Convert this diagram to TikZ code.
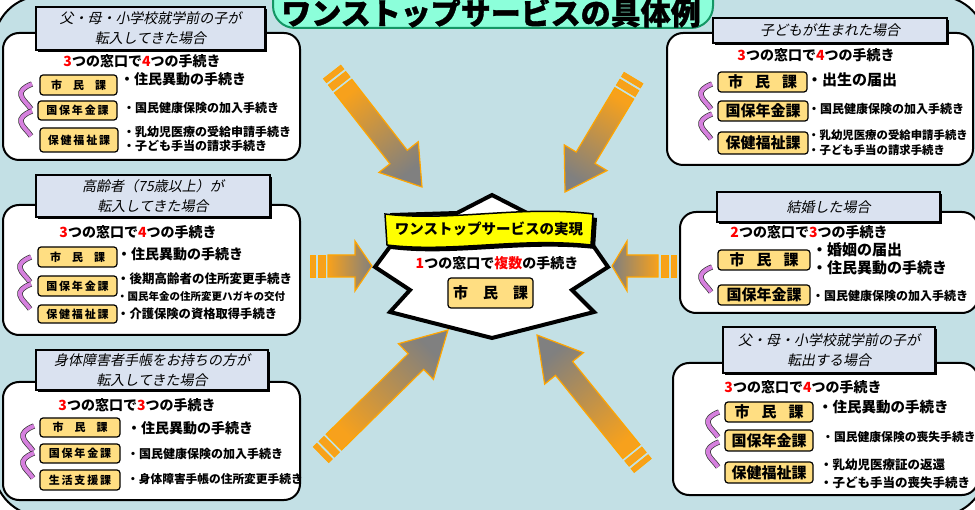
\documentclass[tikz,border=0pt]{standalone}
\usepackage{fontspec}
\setmainfont{Noto Sans CJK JP}
\newfontfamily\tabfont[FakeSlant=0.2]{Noto Sans CJK JP}
\newfontfamily\titlefont[BoldFeatures={FakeBold=1.2}]{Noto Sans CJK JP}
\usetikzlibrary{positioning,shadows}

\definecolor{bgc}{RGB}{195,224,229}
\definecolor{titlec}{RGB}{140,255,218}
\definecolor{titlebd}{RGB}{20,150,100}
\definecolor{tabc}{RGB}{218,226,240}
\definecolor{kac}{RGB}{255,222,130}
\definecolor{ribc}{RGB}{214,128,222}
\definecolor{orangec}{RGB}{247,161,28}
\definecolor{arrowbd}{RGB}{255,165,0}
\definecolor{bannerc}{RGB}{255,255,0}

\newcommand{\rd}[1]{\textcolor{red}{#1}}
\newcommand{\fs}[1]{\bfseries\fontsize{#1}{#1}\selectfont}

% one turn of the purple ribbon
\newcommand{\twist}[2]{%
  \draw[ribbon] (#1+12,#2) .. controls (#1+4,#2+3) and (#1,#2+7) .. (#1+1,#2+11)
    .. controls (#1+2,#2+16) and (#1+8,#2+20) .. (#1+11,#2+25);}

% tip, angle, length, head length, shading angle
\newcommand{\bigarrow}[5]{%
  \begin{scope}[shift={(#1)},rotate=#2]
    \filldraw[arrowbar] (-#3,-11) rectangle (-#3+5,11);
    \filldraw[arrowbar] (-#3+8,-11) rectangle (-#3+15,11);
    \shade[arrowbody,shading angle=#5] (0,0) -- (-#4,25) -- (-#4,11) -- (-#3+18,11)
      -- (-#3+18,-11) -- (-#4,-11) -- (-#4,-25) -- cycle;
  \end{scope}}

\begin{document}
\begin{tikzpicture}[x=1pt,y=-1pt]
  \tikzset{
    panel/.style={draw,line width=2pt,fill=white,rounded corners=16pt,inner sep=0pt},
    tab/.style={draw,line width=1.2pt,fill=tabc,inner sep=0pt,align=center,
      font=\tabfont\fontsize{14}{20}\selectfont,
      drop shadow={fill=black,opacity=1,shadow xshift=2pt,shadow yshift=-2pt}},
    count/.style={inner sep=0pt,font=\fs{14}},
    kabox/.style={draw,line width=1.2pt,fill=kac,rounded corners=3pt,inner sep=0pt,font=\fs{11}},
    bigka/.style={kabox,font=\fs{15}},
    item/.style={anchor=west,inner sep=0pt,align=left,font=\fs{12}},
    ribbon/.style={draw=black!80,line width=0.7pt,double=ribc,double distance=4pt},
    arrowbar/.style={fill=orangec,draw=arrowbd,line width=0.8pt},
    arrowbody/.style={top color=orangec,bottom color=black!50,draw=arrowbd,line width=1.2pt}
  }

  \useasboundingbox (0,0) rectangle (975,510);
  \fill[white] (0,0) rectangle (975,510);
  \draw[line width=2pt,fill=bgc,rounded corners=48pt] (-6,-4) rectangle (986,516);

  \draw[line width=2pt,draw=titlebd,fill=titlec,rounded corners=22pt] (273,-30) rectangle (713,28);
  \node[inner sep=0pt,font=\titlefont\bfseries\fontsize{30}{30}\selectfont] (title) at (491,13) {ワンストップサービスの具体例};

  % arrows into the centre
  \bigarrow{422,187}{-52}{146}{38}{38}
  \bigarrow{565,192}{-121}{133}{40}{-31}
  \bigarrow{372,266}{0}{62}{17}{90}
  \bigarrow{612,266}{180}{64}{15}{270}
  \bigarrow{448,330}{44.5}{178}{45}{134.5}
  \bigarrow{537,335}{129}{168}{43}{219}

  % centre
  \draw[line width=4pt,fill=white,line join=miter]
    (492,195) -- (527,213) -- (590,215) -- (592,244) -- (608,267) -- (572,290)
    -- (594,312) -- (492,338) -- (390,312) -- (410,290) -- (375,267) -- (392,244)
    -- (392,215) -- (457,213) -- cycle;
  \fill[black] (389,218) .. controls (455,226) and (525,209) .. (597,218)
    -- (595,249) .. controls (523,241) and (455,257) .. (391,249) -- cycle;
  \draw[line width=1.5pt,fill=bannerc] (385,214) .. controls (451,222) and (521,205) .. (593,214)
    -- (591,245) .. controls (519,237) and (451,253) .. (387,245) -- cycle;
  \node[inner sep=0pt,font=\fs{14.5}] (banner) at (489,229) {ワンストップサービスの実現};
  \node[count] (ccnt) at (497,263) {\rd{\itshape 1}つの窓口で\rd{複数}の手続き};
  \node[bigka,minimum width=85pt,minimum height=30pt] (cka) at (490.5,293) {市\quad 民\quad 課};

  % 父・母・子が転入
  \node[panel,minimum width=297pt,minimum height=127pt] (pA) at (151.5,96.5) {};
  \node[tab,minimum width=229pt,minimum height=43pt] (pAtab) at (150.5,28.5) {父・母・小学校就学前の子が\\転入してきた場合};
  \node[count] (pAcnt) at (142,61) {\rd{3}つの窓口で\rd{4}つの手続き};
  \node[kabox,minimum width=77pt,minimum height=20pt] (pA1) at (78.5,85) {市\quad 民\quad 課};
  \node[kabox,minimum width=79pt,minimum height=19pt] (pA2) at (77.5,110.5) {国\,保\,年\,金\,課};
  \node[kabox,minimum width=78pt,minimum height=24pt] (pA3) at (79,140) {保\,健\,福\,祉\,課};
  \node[item,font=\fs{14}] (pA1t) at (120,79) {・住民異動の手続き};
  \node[item] (pA2t) at (123,108) {・国民健康保険の加入手続き};
  \node[item,font=\bfseries\fontsize{12}{14.5}\selectfont] (pA3t) at (123,139) {・乳幼児医療の受給申請手続き\\・子ども手当の請求手続き};
  \twist{20}{84}
  \twist{20}{111}

  % 高齢者が転入
  \node[panel,minimum width=297pt,minimum height=130pt] (pB) at (151.5,270) {};
  \node[tab,minimum width=234pt,minimum height=42pt] (pBtab) at (153,196) {高齢者（75歳以上）が\\転入してきた場合};
  \node[count] (pBcnt) at (138,232) {\rd{3}つの窓口で\rd{4}つの手続き};
  \node[kabox,minimum width=79pt,minimum height=20pt] (pB1) at (77.5,257) {市\quad 民\quad 課};
  \node[kabox,minimum width=79pt,minimum height=20pt] (pB2) at (77.5,286) {国\,保\,年\,金\,課};
  \node[kabox,minimum width=79pt,minimum height=18pt] (pB3) at (77.5,314) {保\,健\,福\,祉\,課};
  \node[item,font=\fs{14}] (pB1t) at (117,254) {・住民異動の手続き};
  \node[item,font=\fs{12.5}] (pB2t) at (117,279) {・後期高齢者の住所変更手続き};
  \node[item,font=\fs{10.5}] (pB2u) at (117,297) {・国民年金の住所変更ハガキの交付};
  \node[item,font=\fs{12.3}] (pB3t) at (117,314) {・介護保険の資格取得手続き};
  \twist{19}{257}
  \twist{19}{284}

  % 身体障害者手帳
  \node[panel,minimum width=297pt,minimum height=118pt] (pC) at (151.5,441) {};
  \node[tab,minimum width=232pt,minimum height=40pt] (pCtab) at (152,370) {身体障害者手帳をお持ちの方が\\転入してきた場合};
  \node[count] (pCcnt) at (137,405) {\rd{3}つの窓口で\rd{3}つの手続き};
  \node[kabox,minimum width=80pt,minimum height=19pt] (pC1) at (80,427.5) {市\quad 民\quad 課};
  \node[kabox,minimum width=80pt,minimum height=19pt] (pC2) at (80,453.5) {国\,保\,年\,金\,課};
  \node[kabox,minimum width=80pt,minimum height=20pt] (pC3) at (80,480) {生\,活\,支\,援\,課};
  \node[item,font=\fs{14}] (pC1t) at (127,428) {・住民異動の手続き};
  \node[item] (pC2t) at (127,454) {・国民健康保険の加入手続き};
  \node[item,font=\fs{11.7}] (pC3t) at (127,479) {・身体障害手帳の住所変更手続き};
  \twist{22}{426}
  \twist{22}{453}

  % 子どもが生まれた
  \node[panel,minimum width=306pt,minimum height=132pt] (pD) at (820,99) {};
  \node[tab,minimum width=234pt,minimum height=25pt] (pDtab) at (830,30.5) {子どもが生まれた場合};
  \node[count] (pDcnt) at (816,55) {\rd{3}つの窓口で\rd{4}つの手続き};
  \node[bigka,minimum width=89pt,minimum height=20pt] (pD1) at (762.5,82) {市\hspace{0.8em}民\hspace{0.8em}課};
  \node[bigka,minimum width=90pt,minimum height=20pt] (pD2) at (763,111) {国保年金課};
  \node[bigka,minimum width=90pt,minimum height=22pt] (pD3) at (763,143) {保健福祉課};
  \node[item,font=\fs{15}] (pD1t) at (807,80) {・出生の届出};
  \node[item] (pD2t) at (808,109) {・国民健康保険の加入手続き};
  \node[item,font=\bfseries\fontsize{11.4}{15}\selectfont] (pD3t) at (808,143) {・乳幼児医療の受給申請手続き\\・子ども手当の請求手続き};
  \twist{700}{84}
  \twist{700}{114}

  % 結婚
  \node[panel,minimum width=298pt,minimum height=101pt] (pE) at (829,262.5) {};
  \node[tab,minimum width=223pt,minimum height=30pt] (pEtab) at (828.5,207) {結婚した場合};
  \node[count] (pEcnt) at (809,232) {\rd{2}つの窓口で\rd{3}つの手続き};
  \node[bigka,minimum width=92pt,minimum height=20pt] (pE1) at (764,260) {市\hspace{0.8em}民\hspace{0.8em}課};
  \node[bigka,minimum width=92pt,minimum height=20pt] (pE2) at (764,295) {国保年金課};
  \node[item,font=\bfseries\fontsize{15}{18}\selectfont] (pE1t) at (812,259) {・婚姻の届出\\・住民異動の手続き};
  \node[item] (pE2t) at (812,296) {・国民健康保険の加入手続き};
  \twist{700}{267}

  % 父・母・子が転出
  \node[panel,minimum width=305pt,minimum height=132pt] (pF) at (825.5,429) {};
  \node[tab,minimum width=212pt,minimum height=46pt] (pFtab) at (829,350) {父・母・小学校就学前の子が\\転出する場合};
  \node[count] (pFcnt) at (803,387) {\rd{3}つの窓口で\rd{4}つの手続き};
  \node[bigka,minimum width=88pt,minimum height=20pt] (pF1) at (769,412) {市\hspace{0.8em}民\hspace{0.8em}課};
  \node[bigka,minimum width=88pt,minimum height=21pt] (pF2) at (769,440.5) {国保年金課};
  \node[bigka,minimum width=88pt,minimum height=21pt] (pF3) at (769,472.5) {保健福祉課};
  \node[item,font=\fs{14.5}] (pF1t) at (818,407) {・住民異動の手続き};
  \node[item,font=\fs{11.8}] (pF2t) at (822,437) {・国民健康保険の喪失手続き};
  \node[item,font=\bfseries\fontsize{12.5}{18}\selectfont] (pF3t) at (820,474) {・乳幼児医療証の返還\\・子ども手当の喪失手続き};
  \twist{707}{412}
  \twist{707}{442}
\end{tikzpicture}
\end{document}
